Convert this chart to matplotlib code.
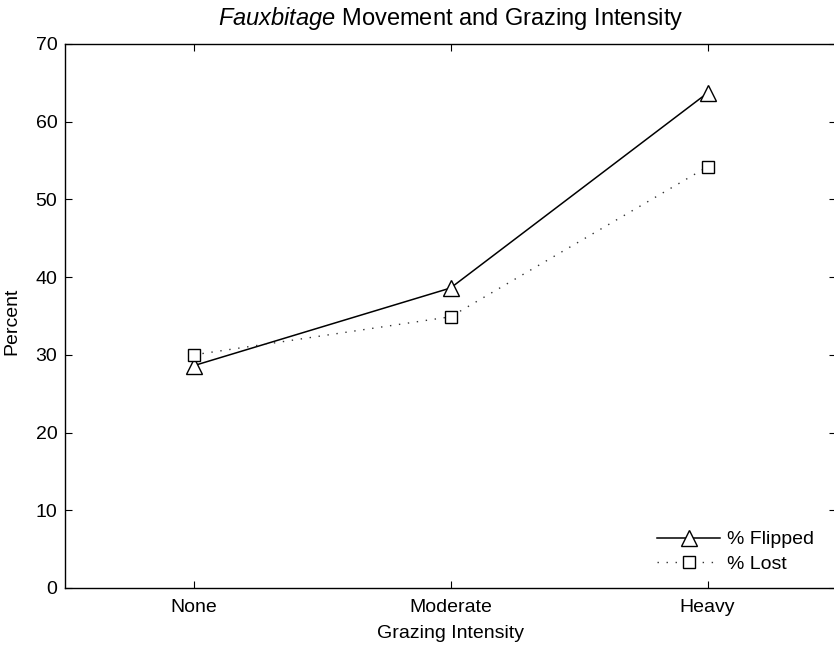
import matplotlib
matplotlib.use("Agg")
import matplotlib.pyplot as plt

categories = ["None", "Moderate", "Heavy"]
flipped = [28.6, 38.6, 63.7]
lost = [30.0, 34.9, 54.2]
yticks = [0, 10, 20, 30, 40, 50, 60, 70]

plt.rcParams['font.family'] = ['Liberation Sans', 'DejaVu Sans']
plt.rcParams['mathtext.fontset'] = 'custom'
plt.rcParams['mathtext.it'] = 'Liberation Sans:italic'
plt.rcParams['mathtext.rm'] = 'Liberation Sans'

fig = plt.figure(figsize=(8.34, 6.48), dpi=100)
ax = fig.add_axes([65/834, 60/648, (836-65)/834, (588-44)/648])
x = [1, 2, 3]
ax.plot(x, flipped, color='black', lw=1.1, marker='^', markersize=11,
        markerfacecolor='white', markeredgecolor='black', markeredgewidth=1.0,
        label='% Flipped')
ax.plot(x, lost, color='#333333', lw=1.0, linestyle=(0, (1, 5.5)), marker='s', markersize=8,
        markerfacecolor='white', markeredgecolor='black', markeredgewidth=1.0,
        label='% Lost')
ax.set_xlim(0.5, 3.5)
ax.set_ylim(0, 70)
ax.set_xticks(x)
ax.set_xticklabels(categories)
ax.set_yticks(yticks)
ax.tick_params(direction='in', length=5, top=True, right=True, labelsize=14, width=0.8)
ax.tick_params(axis='x', pad=8)
ax.tick_params(axis='y', pad=5.5)
for s in ax.spines.values():
    s.set_linewidth(1.0)
ax.set_xlabel('Grazing Intensity', fontsize=14, labelpad=6.5)
ax.set_ylabel('Percent', fontsize=14)
ax.yaxis.set_label_coords(-0.058, 0.49)
ax.set_title(r'$\it{Fauxbitage}$ Movement and Grazing Intensity', fontsize=17, pad=14)
leg = ax.legend(loc='lower right', frameon=False, fontsize=14, handlelength=3.2,
                handletextpad=0.4, labelspacing=0.35, borderpad=0, borderaxespad=0,
                bbox_to_anchor=(0.972, 0.028))
fig.savefig('out.png', dpi=100)
